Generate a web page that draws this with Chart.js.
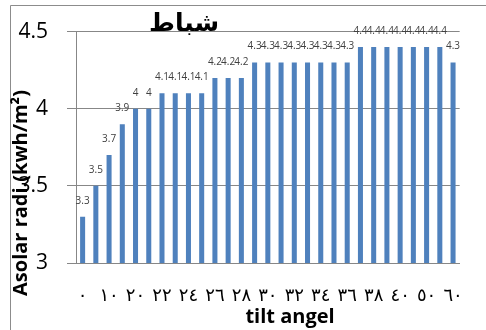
<!DOCTYPE html>
<html>
<head>
<meta charset="utf-8">
<script src="https://cdn.jsdelivr.net/npm/chart.js@4/dist/chart.umd.min.js"></script>
<style>
  html, body { margin: 0; padding: 0; background: #fff; }
  #wrap { width: 486px; height: 330px; position: relative; }
</style>
</head>
<body>
<div id="wrap"><canvas id="c" width="486" height="330"></canvas></div>
<script>
// Tilt angle (degrees) and mean solar radiation for February
const tiltAngles = [0, 5, 10, 15, 20, 21, 22, 23, 24, 25, 26, 27, 28, 29, 30,
                    31, 32, 33, 34, 35, 36, 37, 38, 39, 40, 45, 50, 55, 60];
const radiation = [3.3, 3.5, 3.7, 3.9, 4, 4, 4.1, 4.1, 4.1, 4.1, 4.2, 4.2, 4.2,
                   4.3, 4.3, 4.3, 4.3, 4.3, 4.3, 4.3, 4.3,
                   4.4, 4.4, 4.4, 4.4, 4.4, 4.4, 4.4, 4.3];
const yTicks = [3, 3.5, 4, 4.5];

const chartTitle = 'شباط';
const xTitle = 'tilt angel';
const yTitle = 'Asolar radi.(kwh/m²)';

const arabicDigits = '٠١٢٣٤٥٦٧٨٩';
function toArabic(n) {
  return String(n).replace(/[0-9]/g, d => arabicDigits[+d]);
}

const gridColor = '#878787';

// value labels above each bar
const barValues = {
  id: 'barValues',
  afterDatasetsDraw(chart) {
    const ctx = chart.ctx;
    const meta = chart.getDatasetMeta(0);
    ctx.save();
    ctx.font = '10px "Open Sans", "Liberation Sans", sans-serif';
    ctx.fillStyle = '#404040';
    ctx.textAlign = 'center';
    ctx.textBaseline = 'alphabetic';
    meta.data.forEach((bar, i) => {
      ctx.fillText(String(radiation[i]), bar.x, bar.y - 13);
    });
    ctx.restore();
  }
};

// frame, chart title and axis titles
const decorations = {
  id: 'decorations',
  afterDraw(chart) {
    const ctx = chart.ctx;
    ctx.save();
    ctx.strokeStyle = '#8c8c8c';
    ctx.lineWidth = 1;
    ctx.beginPath();
    ctx.moveTo(10.5, 330);
    ctx.lineTo(10.5, 5.5);
    ctx.lineTo(486, 5.5);
    ctx.stroke();

    ctx.fillStyle = '#000';
    ctx.textAlign = 'center';
    ctx.textBaseline = 'middle';
    ctx.font = 'bold 25px "DejaVu Sans", sans-serif';
    ctx.fillText(chartTitle, 184, 24);

    ctx.font = 'bold 20px "Open Sans", "Liberation Sans", sans-serif';
    ctx.fillText(xTitle, 290, 317);

    ctx.translate(21, 193);
    ctx.rotate(-Math.PI / 2);
    ctx.font = 'bold 20px "Open Sans", "Liberation Sans", sans-serif';
    ctx.fillText(yTitle, 0, 0);
    ctx.restore();
  }
};

new Chart(document.getElementById('c'), {
  type: 'bar',
  data: {
    labels: tiltAngles,
    datasets: [{
      data: radiation,
      backgroundColor: '#4f81bd',
      borderWidth: 0,
      barPercentage: 0.38,
      categoryPercentage: 1.0
    }]
  },
  options: {
    responsive: false,
    animation: false,
    devicePixelRatio: 1,
    layout: { padding: { top: 25, right: 16, left: 0, bottom: 0 } },
    plugins: {
      legend: { display: false },
      title: { display: false },
      tooltip: { enabled: false }
    },
    scales: {
      x: {
        grid: { display: false, drawTicks: false },
        border: { display: true, color: gridColor, width: 1 },
        ticks: {
          autoSkip: false,
          maxRotation: 0,
          minRotation: 0,
          padding: 23,
          color: '#000',
          font: { family: '"DejaVu Sans", sans-serif', size: 18 },
          callback: (v, i) => (i % 2 === 0 ? toArabic(tiltAngles[i]) : '')
        },
        afterFit(scale) { scale.height = 67; }
      },
      y: {
        min: 3,
        max: 4.5,
        afterBuildTicks(scale) { scale.ticks = yTicks.map(v => ({ value: v })); },
        grid: { color: gridColor, tickLength: 9, lineWidth: 1 },
        border: { display: true, color: gridColor, width: 1 },
        ticks: {
          padding: 19,
          color: '#000',
          font: { family: '"Open Sans", "Liberation Sans", sans-serif', size: 21 },
          callback: v => String(v)
        },
        afterFit(scale) { scale.width = 76; }
      }
    }
  },
  plugins: [barValues, decorations]
});
</script>
</body>
</html>
